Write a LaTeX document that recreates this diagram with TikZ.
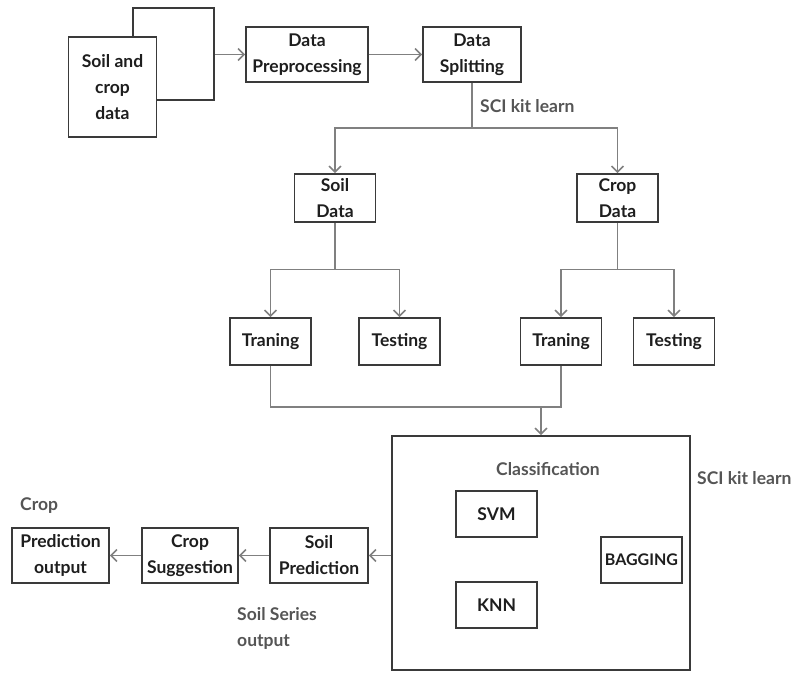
\documentclass[tikz,border=0pt]{standalone}
\usepackage{fontspec}
\setmainfont{Lato}
\usetikzlibrary{arrows.meta}
\definecolor{boxline}{HTML}{3A3A3A}
\definecolor{connline}{HTML}{808080}
\definecolor{labelgray}{HTML}{555555}
\definecolor{textdark}{HTML}{1E1E1E}

\begin{document}
\begin{tikzpicture}[x=1pt, y=-1pt,
        box/.style={draw=boxline, line width=1.8pt, fill=white, align=center, inner sep=0pt,
            text=textdark, font=\fontsize{17.5}{26}\selectfont\bfseries},
        lbl/.style={text=labelgray, inner sep=0pt, align=left, font=\fontsize{17.5}{26}\selectfont\bfseries},
        conn/.style={draw=connline, line width=1.5pt},
        flow/.style={conn, -{Straight Barb[length=6pt, width=12pt]}}]
        \useasboundingbox[fill=white] (0,0) rectangle (794,673);

        \node[box, minimum width=81pt, minimum height=92pt] (rawback) at (173.5,54) {};
        \node[box, minimum width=88pt, minimum height=100pt] (raw) at (112.5,87) {Soil and\\crop\\data};
        \node[box, minimum width=122pt, minimum height=55pt] (prep) at (307,54.5) {Data\\Preprocessing};
        \node[box, minimum width=98pt, minimum height=55pt] (split) at (472,54.5) {Data\\Splitting};
        \node[lbl, anchor=west] (sklearn1) at (480,106) {SCI kit learn};

        \node[box, minimum width=81pt, minimum height=48pt] (soildata) at (335,198) {Soil\\Data};
        \node[box, minimum width=81pt, minimum height=48pt] (cropdata) at (617.5,198) {Crop\\Data};

        \node[box, minimum width=81pt, minimum height=47pt] (soiltrain) at (270.5,341.5) {Traning};
        \node[box, minimum width=81pt, minimum height=47pt] (soiltest) at (399.5,341.5) {Testing};
        \node[box, minimum width=81pt, minimum height=47pt] (croptrain) at (561,341.5) {Traning};
        \node[box, minimum width=81pt, minimum height=47pt] (croptest) at (674,341.5) {Testing};

        \node[box, minimum width=298pt, minimum height=234pt] (classbox) at (541,553) {};
        \node[lbl] (classlbl) at (548,469) {Classification};
        \node[box, minimum width=81pt, minimum height=46pt] (svm) at (496.5,514) {SVM};
        \node[box, minimum width=81pt, minimum height=46pt] (knn) at (496.5,605) {KNN};
        \node[box, minimum width=81pt, minimum height=46pt, font=\fontsize{16}{26}\selectfont\bfseries] (bagging) at (641.5,560) {BAGGING};
        \node[lbl, anchor=west] (sklearn2) at (697,478) {SCI kit learn};

        \node[box, minimum width=98pt, minimum height=55pt] (soilpred) at (319,555.5) {Soil\\Prediction};
        \node[box, minimum width=96pt, minimum height=55pt] (cropsugg) at (190,555.5) {Crop\\Suggestion};
        \node[box, minimum width=97pt, minimum height=55pt] (predout) at (60.5,555.5) {Prediction\\output};
        \node[lbl, anchor=west] (croplbl) at (20,506) {Crop};
        \node[lbl, anchor=west] (serieslbl) at (237,628) {Soil Series\\output};

        % junctions
        \coordinate (splitj) at (472,128);
        \coordinate (soilj) at (335,269.5);
        \coordinate (cropj) at (617.5,269.5);
        \coordinate (mergej) at (541,407);

        \draw[flow] (rawback.east |- prep.west) -- (prep.west);
        \draw[flow] (prep) -- (split);
        \draw[conn] (split) -- (splitj);
        \draw[flow] (splitj) -| (soildata);
        \draw[flow] (splitj) -| (cropdata);

        \draw[conn] (soildata) -- (soilj);
        \draw[flow] (soilj) -| (soiltrain);
        \draw[flow] (soilj) -| (soiltest);
        \draw[conn] (cropdata) -- (cropj);
        \draw[flow] (cropj) -| (croptrain);
        \draw[flow] (cropj) -| (croptest);

        \draw[conn] (soiltrain) |- (croptrain.south |- mergej) -- (croptrain);
        \draw[flow] (mergej) -- (classbox);

        \draw[flow] (classbox.west |- soilpred.east) -- (soilpred);
        \draw[flow] (soilpred) -- (cropsugg);
        \draw[flow] (cropsugg) -- (predout);
\end{tikzpicture}
\end{document}
